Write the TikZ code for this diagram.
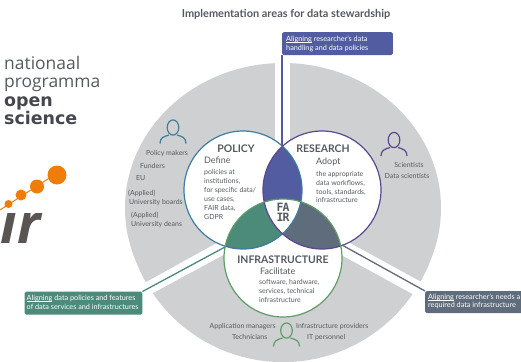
\documentclass[tikz,border=0pt]{standalone}
\usepackage{fontspec}
\setmainfont{Lato}
\newfontfamily\monof{DejaVu Sans Mono}
\newfontfamily\logof{Open Sans}
\newfontfamily\logob{DejaVu Sans}
\usetikzlibrary{calc}
\definecolor{discgray}{HTML}{CFD0D2}
\definecolor{txtgray}{HTML}{555A60}
\definecolor{polc}{HTML}{3F7C9E}
\definecolor{resc}{HTML}{5B4690}
\definecolor{infc}{HTML}{5E9C68}
\definecolor{lensa}{HTML}{525CA0}
\definecolor{lensb}{HTML}{4C8A7A}
\definecolor{lensc}{HTML}{5F6C7C}
\definecolor{orng}{HTML}{F07D0A}
\definecolor{irgray}{HTML}{5A5552}
\tikzset{
  lab/.style={inner sep=0pt,text=txtgray,anchor=base,yshift=-2.3pt,font=\fontsize{7}{8}\selectfont},
  labw/.style={lab,anchor=base west},
  head/.style={inner sep=0pt,text=txtgray,anchor=base,yshift=-3.6pt,font=\fontsize{10.5}{12}\selectfont\bfseries},
  verb/.style={inner sep=0pt,anchor=base west,yshift=-3pt,text=txtgray,font=\fontsize{9}{10}\selectfont},
  boxt/.style={inner sep=0pt,anchor=base west,yshift=-2.3pt,text=white,font=\fontsize{7.3}{8}\selectfont},
  logot/.style={inner sep=0pt,anchor=base west,text=txtgray,font=\fontsize{17.5}{18}\logof},
  logobt/.style={inner sep=0pt,anchor=base west,text=txtgray!80!black,font=\fontsize{17.5}{18}\logob\bfseries},
  person/.style={line width=1.2pt,fill=none},
  conn/.style={line width=1.3pt}
}
\newcommand{\personicon}[3]{%
  \draw[person,#3] (#1,#2) ellipse [x radius=5.8,y radius=7.6];
  \draw[person,#3] (#1-13,#2+16) .. controls (#1-13,#2+10) and (#1-9,#2+9) .. (#1-4,#2+7.5);
  \draw[person,#3] (#1+13,#2+16) .. controls (#1+13,#2+10) and (#1+9,#2+9) .. (#1+4,#2+7.5);
}
\newcommand{\underl}[1]{\setbox0\hbox{#1}\rlap{\rule[-0.8pt]{\wd0}{0.35pt}}\box0\relax}
\begin{document}
\begin{tikzpicture}[x=1bp,y=-1bp]
\useasboundingbox (0,0) rectangle (521,361);
\clip (0,0) rectangle (521,361);
% disc: upper part and lower part
\fill[discgray] (283,208) ellipse [x radius=158,y radius=145];
\begin{scope}
\clip (100,250) rectangle (470,361);
\fill[discgray] (283,204.5) circle (157.6);
\end{scope}
% gaps
\fill[white] (275,40) rectangle (290,150);
\fill[white] (110,302) -- (225,238.5) -- (240,246) -- (115,313.5) -- cycle;
\fill[white] (455,300.5) -- (340,237.5) -- (325,246) -- (450,314.5) -- cycle;
% circles
\coordinate (pc) at (243,190);
\coordinate (rc) at (322,190);
\coordinate (ic) at (283,258);
\fill[white] (pc) circle (59);
\fill[white] (rc) circle (59);
\fill[white] (ic) circle (59);
\begin{scope}\clip (pc) circle (59);\fill[lensa] (rc) circle (59);\end{scope}
\begin{scope}\clip (pc) circle (59);\fill[lensb] (ic) circle (59);\end{scope}
\begin{scope}\clip (rc) circle (59);\fill[lensc] (ic) circle (59);\end{scope}
\begin{scope}\clip (pc) circle (59);\clip (rc) circle (59);\fill[white] (ic) circle (59);\end{scope}
\draw[polc,line width=1.2pt] (pc) circle (59);
\draw[resc,line width=1.2pt] (rc) circle (59);
\draw[infc,line width=1.2pt] (ic) circle (59);
% connectors and boxes
\coordinate (rtop) at (282,146);
\coordinate (pleft) at (225,247);
\coordinate (rright) at (342,245);
\node[inner sep=0pt,minimum width=111,minimum height=23,rounded corners=1.5,fill=lensa,anchor=north west] (boxa) at (282,32) {};
\node[inner sep=0pt,minimum width=118,minimum height=23,rounded corners=1.5,fill=lensb,anchor=north west] (boxb) at (24.5,291.5) {};
\node[inner sep=0pt,minimum width=98,minimum height=22,rounded corners=1.5,fill=lensc,anchor=north west] (boxc) at (425,291) {};
\draw[conn,lensa] (rtop) -- (boxa.south west);
\draw[conn,lensb] (pleft) -- (boxb.north east);
\draw[conn,lensc] (rright) -- (boxc.north west);
\node[boxt] (ta1) at (286,39) {\underl{Aligning} researcher's data};
\node[boxt] (ta2) at (286,48) {handling and data policies};
\node[boxt] (tb1) at (26.5,298) {\underl{Aligning} data policies and features};
\node[boxt] (tb2) at (26.5,307) {of data services and infrastructures};
\node[boxt] (tc1) at (428,297) {\underl{Aligning} researcher's needs a};
\node[boxt] (tc2) at (428,305.5) {required data infrastructure};
% title
\node[inner sep=0pt,text=txtgray,font=\fontsize{11}{12}\selectfont\bfseries] (title) at (286,14.5) {Implementation areas for data stewardship};
% logo
\node[logot] (l1) at (4,69) {nationaal};
\node[logot] (l2) at (4,87.5) {programma};
\node[logobt] (l3) at (4,106) {open};
\node[logobt] (l4) at (4,124) {science};
\begin{scope}
\clip (0,213) rectangle (60,250);
\node[inner sep=0pt,anchor=base east,text=irgray,font=\fontsize{56}{58}\logof\bfseries\itshape] (ir) at (41,243) {ir};
\end{scope}
\draw[orng,line width=1pt] (0,210) -- (57,173);
\fill[orng] (57,175) circle (9.5);
\fill[orng] (37,186.5) circle (7);
\fill[orng] (21,195) circle (5.5);
\fill[orng] (8.5,204) circle (4);
% icons
\personicon{173}{127.5}{polc}
\personicon{394}{140}{resc}
\personicon{286.5}{330.5}{infc}
% policy
\node[head] (p0) at (236,149) {POLICY};
\node[verb] (p1) at (204,161) {Define};
\node[labw] (p2) at (204,172) {policies at};
\node[labw] (p3) at (204,181.5) {institutions,};
\node[labw] (p4) at (204,190) {for specific data/};
\node[labw] (p5) at (204,199) {use cases,};
\node[labw] (p6) at (204,208) {FAIR data,};
\node[labw] (p7) at (204,217) {GDPR};
\node[labw] (q1) at (146,153) {Policy makers};
\node[labw] (q2) at (140,166) {Funders};
\node[labw] (q3) at (136,178) {EU};
\node[labw] (q4) at (128,193) {(Applied)};
\node[labw] (q5) at (129,202) {University boards};
\node[labw] (q6) at (131,215) {(Applied)};
\node[labw] (q7) at (131,224) {University deans};
% research
\node[head] (r0) at (323,149) {RESEARCH};
\node[verb] (r1) at (316,161.5) {Adopt};
\node[labw] (r2) at (316,174) {the appropriate};
\node[labw] (r3) at (316,183) {data workflows,};
\node[labw] (r4) at (316,192) {tools, standards,};
\node[labw] (r5) at (316,200.5) {infrastructure};
\node[lab] (s1) at (409,165.5) {Scientists};
\node[lab] (s2) at (407,176) {Data scientists};
% infrastructure
\node[head] (i0) at (283,259.5) {INFRASTRUCTURE};
\node[verb] (i1) at (260,272) {Facilitate};
\node[labw] (i2) at (259,282) {software, hardware,};
\node[labw] (i3) at (259,291) {services, technical};
\node[labw] (i4) at (259,300) {infrastructure};
\node[labw] (j1) at (209.5,326) {Application managers};
\node[labw] (j2) at (232,337) {Technicians};
\node[labw] (j3) at (296,326) {Infrastructure providers};
\node[labw] (j4) at (307,337) {IT personnel};
% FAIR
\node[inner sep=0pt,text=txtgray,font=\fontsize{11.5}{11.5}\monof\bfseries] (f1) at (283,207) {F\kern-0.8pt A};
\node[inner sep=0pt,text=txtgray,font=\fontsize{11.5}{11.5}\monof\bfseries] (f2) at (283,217.5) {I\kern-0.8pt R};
\end{tikzpicture}
\end{document}
